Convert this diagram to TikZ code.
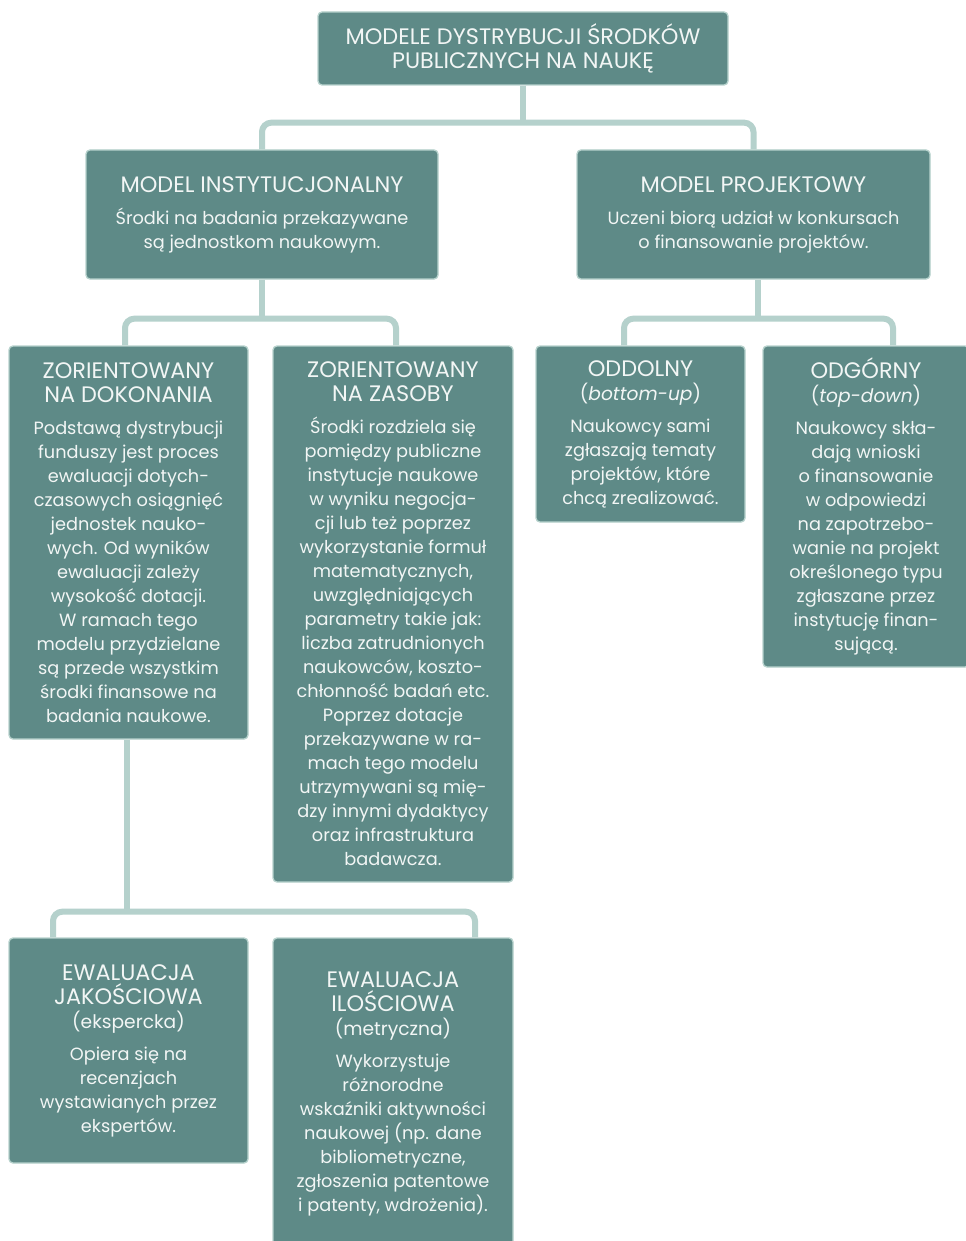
\documentclass[tikz,border=0pt]{standalone}
\usepackage{fontspec}
\setmainfont{Poppins}
\usetikzlibrary{calc}
\definecolor{boxfill}{HTML}{5E8A87}
\definecolor{boxline}{HTML}{B7D2CD}
\definecolor{connc}{HTML}{B5D1CC}
\definecolor{txt}{HTML}{F2F6F5}
\newcommand\hd{\fontsize{16.8}{18}\selectfont}
\newcommand\sub{\fontsize{14}{18}\selectfont}
\tikzset{
  box/.style={draw=boxline, line width=1pt, fill=boxfill, rounded corners=3pt,
    text=txt, align=center, inner sep=0pt, font=\fontsize{13.3}{18}\selectfont},
  conn/.style={draw=connc, line width=4.5pt, rounded corners=7pt},
}
\begin{document}
\begin{tikzpicture}[x=0.75pt,y=-0.75pt]
\useasboundingbox (0,0) rectangle (965,1241);
\fill[white] (0,0) rectangle (965,1241);

\node[box, minimum width=307.5pt, minimum height=54.75pt, font=\hd] (top) at (523,48.5)
  {MODELE DYSTRYBUCJI ŚRODKÓW\\PUBLICZNYCH NA NAUKĘ};

\node[box, minimum width=264pt, minimum height=96.75pt] (inst) at (262,214.5)
  {{\hd MODEL INSTYTUCJONALNY}\\[6pt]Środki na badania przekazywane\\są jednostkom naukowym.};

\node[box, minimum width=264.75pt, minimum height=96.75pt] (proj) at (753.5,214.5)
  {{\hd MODEL PROJEKTOWY}\\[6pt]Uczeni biorą udział w konkursach\\o finansowanie projektów.};

\node[box, minimum width=179.25pt, minimum height=294.75pt] (dok) at (128.5,542.5)
  {{\hd ZORIENTOWANY}\\{\hd NA DOKONANIA}\\[6pt]Podstawą dystrybucji\\funduszy jest proces\\ewaluacji dotych-\\czasowych osiągnięć\\jednostek nauko-\\wych. Od wyników\\ewaluacji zależy\\wysokość dotacji.\\W ramach tego\\modelu przydzielane\\są przede wszystkim\\środki finansowe na\\badania naukowe.};

\node[box, minimum width=180pt, minimum height=402pt] (zas) at (393,614)
  {{\hd ZORIENTOWANY}\\{\hd NA ZASOBY}\\[6pt]Środki rozdziela się\\pomiędzy publiczne\\instytucje naukowe\\w wyniku negocja-\\cji lub też poprzez\\wykorzystanie formuł\\matematycznych,\\uwzględniających\\parametry takie jak:\\liczba zatrudnionych\\naukowców, koszto-\\chłonność badań etc.\\Poprzez dotacje\\przekazywane w ra-\\mach tego modelu\\utrzymywani są mię-\\dzy innymi dydaktycy\\oraz infrastruktura\\badawcza.};

\node[box, minimum width=156.75pt, minimum height=132pt] (odd) at (640.5,434)
  {{\hd ODDOLNY}\\{\sub(\textit{bottom-up})}\\[6pt]Naukowcy sami\\zgłaszają tematy\\projektów, które\\chcą zrealizować.};

\node[box, minimum width=154.5pt, minimum height=240.75pt] (odg) at (866,506.5)
  {{\hd ODGÓRNY}\\{\sub(\textit{top-down})}\\[6pt]Naukowcy skła-\\dają wnioski\\o finansowanie\\w odpowiedzi\\na zapotrzebo-\\wanie na projekt\\określonego typu\\zgłaszane przez\\instytucję finan-\\sującą.};

\node[box, minimum width=179.25pt, minimum height=168.75pt] (jak) at (128.5,1050.5)
  {{\hd EWALUACJA}\\{\hd JAKOŚCIOWA}\\{\sub(ekspercka)}\\[6pt]Opiera się na\\recenzjach\\wystawianych przez\\ekspertów.};

\node[box, minimum width=180pt, minimum height=233.25pt] (il) at (393,1093.5)
  {{\hd EWALUACJA}\\{\hd ILOŚCIOWA}\\{\sub(metryczna)}\\[6pt]Wykorzystuje\\różnorodne\\wskaźniki aktywności\\naukowej (np. dane\\bibliometryczne,\\zgłoszenia patentowe\\i patenty, wdrożenia).};

% connectors
\coordinate (j1) at ($(top.south)+(0,37)$);
\draw[conn] (top.south) -- (j1);
\draw[conn] (inst.north) |- (j1) -| (proj.north);

\coordinate (j2) at ($(inst.south)+(0,39)$);
\draw[conn] (inst.south) -- (j2);
\draw[conn] ($(dok.north)+(-3.5,0)$) |- (j2) -| ($(zas.north)+(3,0)$);

\coordinate (pj) at ($(proj.south)+(4.5,0)$);
\coordinate (j3) at ($(pj)+(0,39)$);
\draw[conn] (pj) -- (j3);
\draw[conn] ($(odd.north)+(-16.5,0)$) |- (j3) -| ($(odg.north)+(27,0)$);

\coordinate (dk) at ($(dok.south)+(-1.5,0)$);
\coordinate (j4) at ($(dk)+(0,172)$);
\draw[conn] (dk) -- (j4);
\draw[conn] ($(jak.north)+(-75.5,0)$) |- (j4) -| ($(il.north)+(82,0)$);
\end{tikzpicture}
\end{document}
